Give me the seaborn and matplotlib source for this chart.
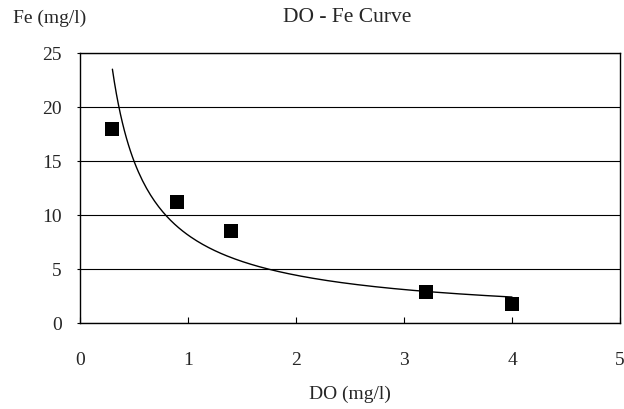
import numpy as np
import pandas as pd
import matplotlib
matplotlib.use("Agg")
import matplotlib.pyplot as plt
import seaborn as sns

# Data
do_vals = [0.3, 0.9, 1.4, 3.2, 4.0]
fe_vals = [18.0, 11.2, 8.5, 2.9, 1.8]
x_ticks = [0, 1, 2, 3, 4, 5]
y_ticks = [0, 5, 10, 15, 20, 25]

sns.set_theme(style="white")
plt.rcParams['font.family'] = ['Liberation Serif', 'DejaVu Serif']

df = pd.DataFrame({"DO": do_vals, "Fe": fe_vals})

# Power trendline fitted to the data (least squares in log-log space)
b, ln_a = np.polyfit(np.log(df["DO"]), np.log(df["Fe"]), 1)
xs = np.linspace(min(do_vals), max(do_vals), 200)
trend = pd.DataFrame({"DO": xs, "Fe": np.exp(ln_a) * xs ** b})

FS = 14

fig = plt.figure(figsize=(6.24, 4.10), dpi=100)
ax = fig.add_axes([80 / 624, 1 - 324 / 410, 540 / 624, 270 / 410])

sns.lineplot(data=trend, x="DO", y="Fe", ax=ax, color="black", linewidth=1.0)
sns.scatterplot(data=df, x="DO", y="Fe", ax=ax, marker="s", s=92,
                color="black", edgecolor="black", linewidth=0, zorder=3)

ax.set_xlim(0, 5)
ax.set_ylim(0, 25)
ax.set_xticks(x_ticks)
ax.set_yticks(y_ticks)
ax.set_xticklabels([str(t) for t in x_ticks], fontsize=FS)
ax.set_yticklabels([str(t) for t in y_ticks], fontsize=FS)

ax.yaxis.grid(True, color="black", linewidth=0.8)
ax.xaxis.grid(False)
for s in ax.spines.values():
    s.set_color("black")
    s.set_linewidth(1.0)

ax.tick_params(axis="x", direction="in", length=4, width=0.8, color="black",
               pad=20.5, bottom=True)
ax.tick_params(axis="y", direction="out", length=2, width=0.8, color="black",
               pad=11, left=True)

ax.set_xlabel("DO (mg/l)", fontsize=FS, labelpad=12)
ax.set_ylabel("")
fig.text(50 / 624, 1 - 18 / 410, "Fe (mg/l)", ha="center", va="center", fontsize=FS)
fig.text(347 / 624, 1 - 17 / 410, "DO - Fe Curve", ha="center", va="center", fontsize=15.5)

fig.savefig("out.png", dpi=100)
